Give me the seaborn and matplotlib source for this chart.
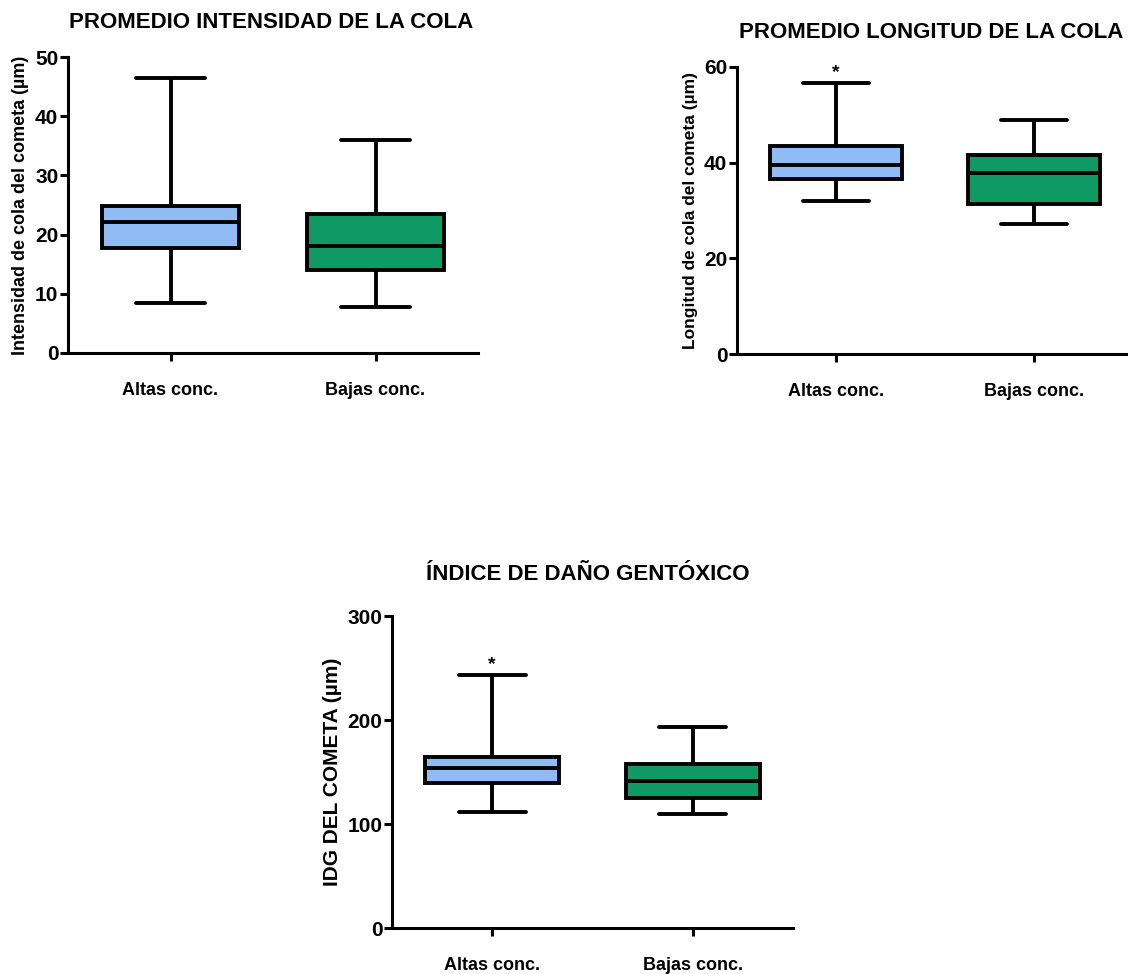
import pandas as pd
import matplotlib
matplotlib.use("Agg")
import matplotlib.pyplot as plt
import seaborn as sns

# five-number summaries: min, Q1, median, Q3, max
groups = ["Altas conc.", "Bajas conc."]
colors = ["#91bbf5", "#0f9a63"]

intensidad_altas = [8.4, 17.7, 22.1, 24.9, 46.4]
intensidad_bajas = [7.8, 14.0, 18.1, 23.5, 36.0]

longitud_altas = [32.0, 36.6, 39.5, 43.5, 56.7]
longitud_bajas = [27.2, 31.4, 37.8, 41.6, 49.0]

idg_altas = [111.9, 139.7, 153.5, 164.7, 243.7]
idg_bajas = [109.4, 124.7, 141.3, 158.0, 193.5]

W, H = 1128, 974


def to_frame(altas, bajas):
    # with 5 points, linear percentiles hit Q1/median/Q3 exactly
    return pd.DataFrame({
        "grupo": [groups[0]] * len(altas) + [groups[1]] * len(bajas),
        "valor": altas + bajas,
    })


def box_panel(fig, rect_px, df, title, title_xy, ylabel, ymax, ystep,
              ylabel_size=13, star=False):
    left, top, right, bottom = rect_px
    ax = fig.add_axes([left / W, 1 - bottom / H, (right - left) / W, (bottom - top) / H])
    sns.boxplot(data=df, x="grupo", y="valor", hue="grupo", palette=colors,
                order=groups, hue_order=groups, legend=False, width=0.67,
                whis=(0, 100), saturation=1, linewidth=2.8, linecolor="black",
                ax=ax)
    ax.set_xlim(-0.5, 1.5)
    ax.set_ylim(0, ymax)
    ax.set_yticks(range(0, ymax + 1, ystep))
    ax.set_xlabel("")
    ax.set_ylabel(ylabel, fontsize=ylabel_size, fontweight="bold", labelpad=4)
    for s in ["top", "right"]:
        ax.spines[s].set_visible(False)
    for s in ["left", "bottom"]:
        ax.spines[s].set_linewidth(2.2)
        ax.spines[s].set_color("black")
    ax.tick_params(axis="y", left=True, width=2.2, length=6, pad=1, labelsize=15,
                   color="black", labelcolor="black")
    ax.tick_params(axis="x", bottom=True, width=2.2, length=6, pad=15, labelsize=13,
                   color="black", labelcolor="black")
    for lab in ax.get_xticklabels() + ax.get_yticklabels():
        lab.set_fontweight("bold")
    if star:
        top_val = df[df["grupo"] == groups[0]]["valor"].max()
        ax.annotate("*", xy=(0, top_val), xytext=(0, 1), textcoords="offset points",
                    ha="center", va="bottom", fontsize=14, fontweight="bold")
    fig.text(title_xy[0] / W, 1 - title_xy[1] / H, title, ha="center", va="center",
             fontsize=16, fontweight="bold")
    return ax


sns.set_style("white")
plt.rcParams["font.family"] = ["Liberation Sans", "DejaVu Sans"]
plt.rcParams["text.color"] = "black"
plt.rcParams["axes.labelcolor"] = "black"

fig = plt.figure(figsize=(W / 100, H / 100), dpi=100)

box_panel(fig, (68, 57, 478, 353), to_frame(intensidad_altas, intensidad_bajas),
          "PROMEDIO INTENSIDAD DE LA COLA", (271, 22),
          "Intensidad de cola del cometa (µm)", 50, 10)
box_panel(fig, (737, 67, 1133, 354), to_frame(longitud_altas, longitud_bajas),
          "PROMEDIO LONGITUD DE LA COLA", (931, 32),
          "Longitud de cola del cometa (µm)", 60, 20, ylabel_size=12.5, star=True)
box_panel(fig, (392, 616, 793, 928), to_frame(idg_altas, idg_bajas),
          "ÍNDICE DE DAÑO GENTÓXICO", (588, 575),
          "IDG DEL COMETA (µm)", 300, 100, ylabel_size=15, star=True)

fig.savefig("out.png", dpi=100)
